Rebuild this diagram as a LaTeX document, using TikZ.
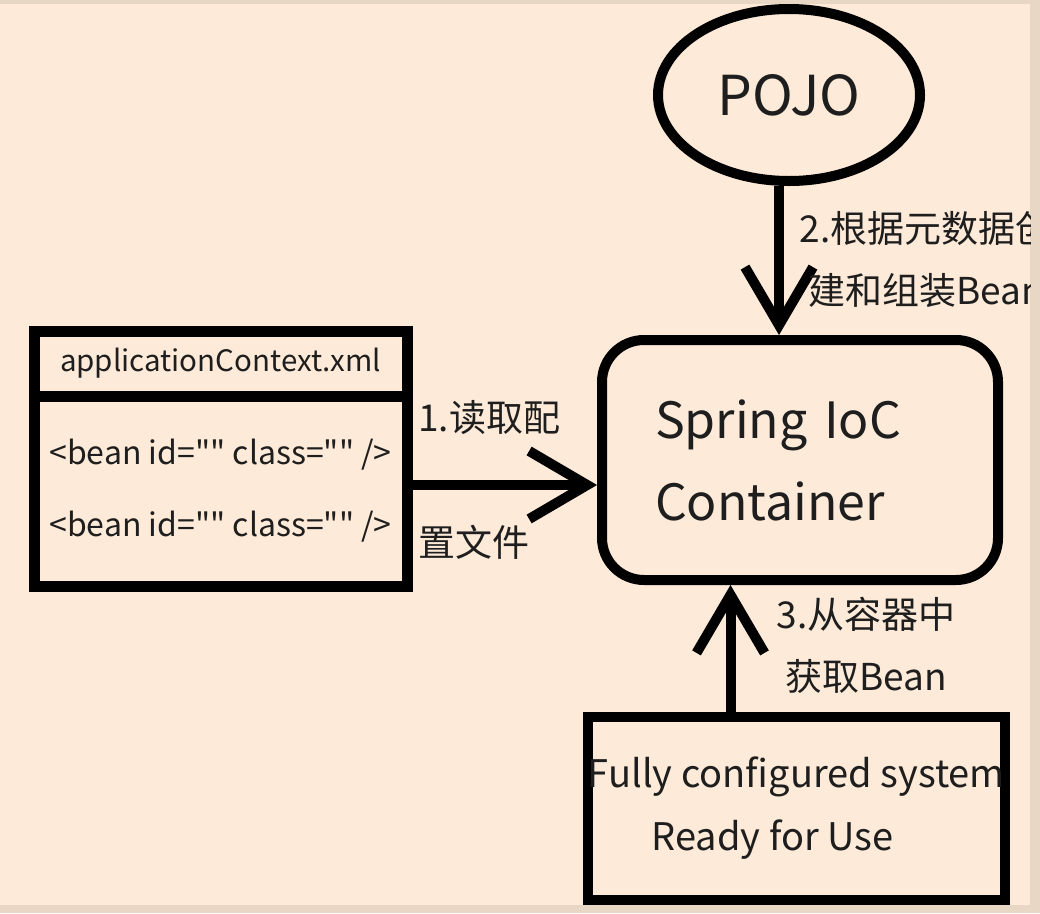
\documentclass[tikz,border=0pt]{standalone}
\usepackage{fontspec}
\setmainfont{Noto Sans CJK SC}[Ligatures=TeXOff]
\usetikzlibrary{arrows.meta,positioning,shapes.geometric}
\definecolor{cBg}{HTML}{FDEAD8}
\definecolor{cEdge}{HTML}{E9D7C5}
\definecolor{cText}{HTML}{1E1E1E}
\tikzset{
  box/.style={draw=black, line width=10pt, fill=cBg, inner sep=0pt, text=cText},
  xmlpart/.style={box, line width=11pt, minimum width=373pt, outer sep=0pt},
  flow/.style={-{Straight Barb[length=58pt,width=68pt]}, line width=10pt},
  lbl/.style={text=cText, inner sep=0pt, align=center, font=\fontsize{37}{62}\selectfont},
}

\begin{document}
\begin{tikzpicture}[x=1pt, y=-1pt]
  \useasboundingbox (0,0) rectangle (1040,913);
  \fill[cEdge] (0,0) rectangle (1040,913);
  \fill[cBg] (0,4) rectangle (1030,905);
  \begin{scope}
    \clip (0,4) rectangle (1030,905);
    % nodes
    \node[box, ellipse, minimum width=262pt, minimum height=172pt,
      font=\fontsize{55}{66}\selectfont] (pojo) at (789,95) {POJO};
    \node[box, rounded corners=42pt, minimum width=396pt, minimum height=240pt,
      text width=290pt, align=left, font=\fontsize{50}{82}\selectfont] (ioc) at (800,460) {Spring IoC\\Container};
    \node[xmlpart, minimum height=65pt, font=\fontsize{29.5}{34}\selectfont] (xmlhead) at (220.5,363.5) {applicationContext.xml};
    \node[xmlpart, minimum height=190pt, align=center, font=\fontsize{32}{72}\selectfont] (xmlbody) at (220.5,491)
      {<bean id="" class="" />\\<bean id="" class="" />};
    \node[box, minimum width=415pt, minimum height=183pt, align=center,
      font=\fontsize{38}{63}\selectfont] (sys) at (796.5,808.5) {Fully configured system\\Ready for Use\hspace*{48pt}};
    % arrows
    \draw[flow] ([yshift=6pt]xmlbody.east) -- ([yshift=6pt]xmlbody.east -| ioc.west);
    \draw[flow] ([xshift=-10pt]pojo.south) -- ([xshift=-10pt]pojo.south |- ioc.north);
    \draw[flow] ([xshift=-66pt]sys.north) -- ([xshift=-66pt]sys.north |- ioc.south);
    % labels
    \node[lbl, anchor=west] (read1) at (418,418) {1.读取配};
    \node[lbl, anchor=west] (read2) at (418,542) {置文件};
    \node[lbl] (build) at (926,260) {2.根据元数据创\\建和组装Bean};
    \node[lbl] (fetch) at (866,645) {3.从容器中\\获取Bean};
  \end{scope}
\end{tikzpicture}
\end{document}
